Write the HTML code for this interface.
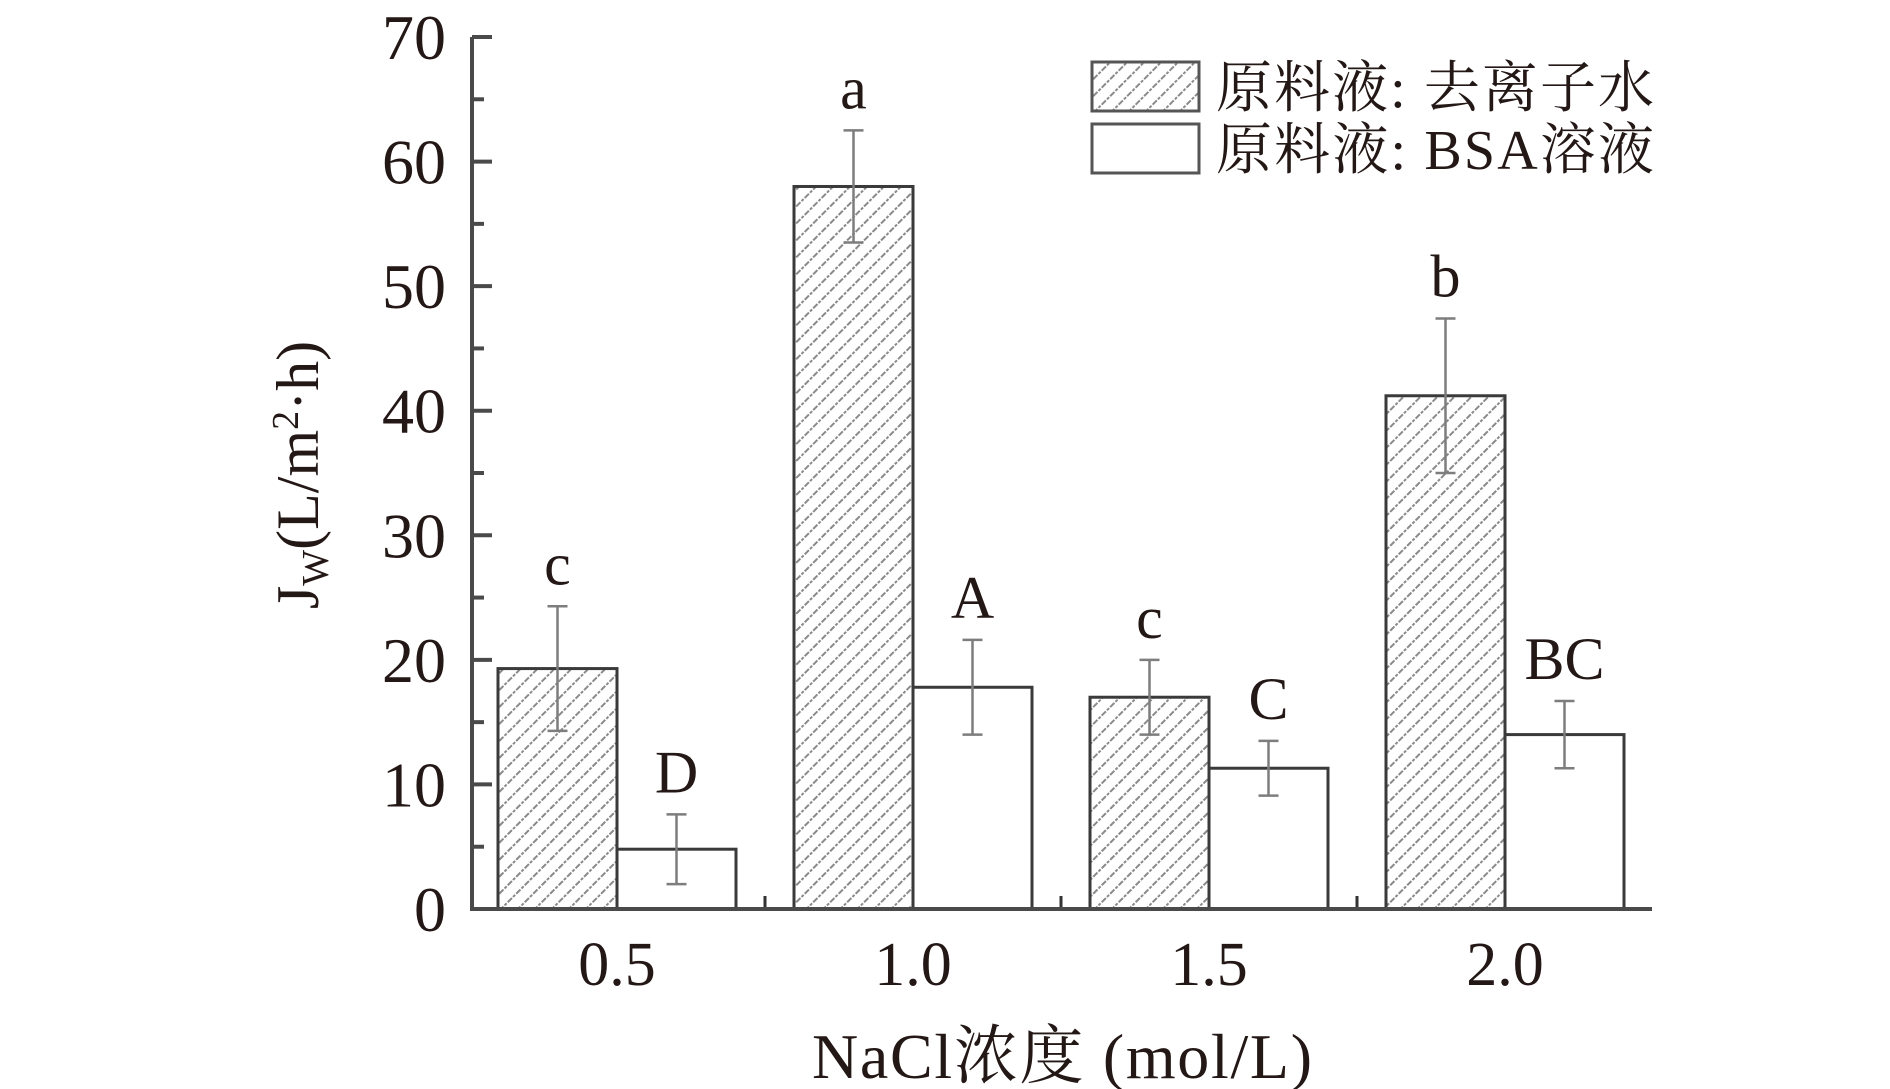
<!DOCTYPE html>
<html><head><meta charset="utf-8"><style>
html,body{margin:0;padding:0;background:#fff;}
svg{display:block;}
text{font-family:"Liberation Serif","Noto Serif CJK SC",serif;fill:#231815;}
</style></head><body>
<svg id="chart" width="1890" height="1089" viewBox="0 0 1890 1089" xmlns="http://www.w3.org/2000/svg">
<defs>
<pattern id="hatch" patternUnits="userSpaceOnUse" width="12" height="12" patternTransform="rotate(45)">
<rect width="12" height="12" fill="#fff"/>
<line x1="0" y1="0" x2="0" y2="12" stroke="#8a8a8a" stroke-width="4" stroke-dasharray="3 1.5"/>
</pattern>
</defs>
<g id="plot"></g>
</svg>
<script>
const categories = ["0.5","1.0","1.5","2.0"];
const waterValues = [19.3, 58.0, 17.0, 41.2];
const waterErrors = [5.0, 4.5, 3.0, 6.2];
const waterLetters = ["c","a","c","b"];
const bsaValues = [4.8, 17.8, 11.3, 14.0];
const bsaErrors = [2.8, 3.8, 2.2, 2.7];
const bsaLetters = ["D","A","C","BC"];
const yTicks = [0,10,20,30,40,50,60,70];

const NS = "http://www.w3.org/2000/svg";
const g = document.getElementById('plot');
const X0 = 472, XEND = 1652, Y0 = 909, Y70 = 37;
function y(v){ return Y0 - (v/70)*(Y0-Y70); }
function xc(i){ return 617 + 296*i; }
const BW = 119;
function mk(tag, attrs, parent){
  const e = document.createElementNS(NS, tag);
  for (const k in attrs) e.setAttribute(k, attrs[k]);
  (parent||g).appendChild(e);
  return e;
}

categories.forEach((c,i)=>{
  const cx = xc(i);
  const r1 = mk('rect',{x:cx-BW,y:y(waterValues[i]),width:BW,height:Y0-y(waterValues[i]),fill:'url(#hatch)',stroke:'#3a3a3a','stroke-width':3});
  
  
  const r2 = mk('rect',{x:cx,y:y(bsaValues[i]),width:BW,height:Y0-y(bsaValues[i]),fill:'#fff',stroke:'#3a3a3a','stroke-width':3});
  
  
  [[cx-BW/2,waterValues[i],waterErrors[i],waterLetters[i],'water'],[cx+BW/2,bsaValues[i],bsaErrors[i],bsaLetters[i],'bsa']].forEach(([ex,v,e,l,s])=>{
    const eg = mk('g',{stroke:'#7d7d7d','stroke-width':2.5,fill:'none'});
    
    
    mk('line',{x1:ex,y1:y(v+e),x2:ex,y2:y(v-e)},eg);
    mk('line',{x1:ex-10,y1:y(v+e),x2:ex+10,y2:y(v+e)},eg);
    mk('line',{x1:ex-10,y1:y(v-e),x2:ex+10,y2:y(v-e)},eg);
    const t = mk('text',{x:ex,y:y(v+e)-22,'text-anchor':'middle','font-size':60});
    t.textContent = l;
    
    
  });
  const tl = mk('text',{x:cx,y:985,'text-anchor':'middle','font-size':62});
  tl.textContent = c;
  
  
  if (i>0){
    const tk = mk('line',{x1:cx-148,y1:Y0,x2:cx-148,y2:Y0-13,stroke:'#333','stroke-width':3});
    
    
  }
});

const ax = mk('g',{stroke:'#4a4a4a','stroke-width':4,fill:'none'});


mk('line',{x1:X0,y1:Y70,x2:X0,y2:Y0+2},ax);
mk('line',{x1:X0-2,y1:Y0,x2:XEND,y2:Y0},ax);
yTicks.forEach((v,i)=>{
  mk('line',{x1:X0,y1:y(v),x2:X0+20,y2:y(v)},ax);
  if (i<yTicks.length-1) mk('line',{x1:X0,y1:y(v+5),x2:X0+12,y2:y(v+5)},ax);
  const t = mk('text',{x:446,y:y(v)+22,'text-anchor':'end','font-size':64});
  t.textContent = v;
  
  
});
</script>
<svg style="position:absolute;left:0;top:0" width="1890" height="1089" xmlns="http://www.w3.org/2000/svg">
<defs><pattern id="hatch2" patternUnits="userSpaceOnUse" width="12" height="12" patternTransform="rotate(45)"><rect width="12" height="12" fill="#fff"/><line x1="0" y1="0" x2="0" y2="12" stroke="#8a8a8a" stroke-width="4" stroke-dasharray="3 1.5"/></pattern></defs>
<g>
<rect x="1092" y="62" width="107" height="49" fill="url(#hatch2)" stroke="#555" stroke-width="3"/>
<text x="1216" y="107" font-size="56" textLength="438">原料液: 去离子水</text>
<rect x="1092" y="124" width="107" height="49" fill="#fff" stroke="#555" stroke-width="3"/>
<text x="1216" y="169" font-size="56" textLength="438">原料液: BSA溶液</text>
</g>
<text x="1062" y="1078" text-anchor="middle" font-size="64" textLength="500">NaCl浓度 (mol/L)</text>
<text transform="translate(318,475) rotate(-90)" text-anchor="middle" font-size="60">J<tspan font-size="38" dy="10">W</tspan><tspan dy="-10">(L/m</tspan><tspan font-size="38" dy="-20">2</tspan><tspan dy="20">·h)</tspan></text>
</svg>
</body></html>
